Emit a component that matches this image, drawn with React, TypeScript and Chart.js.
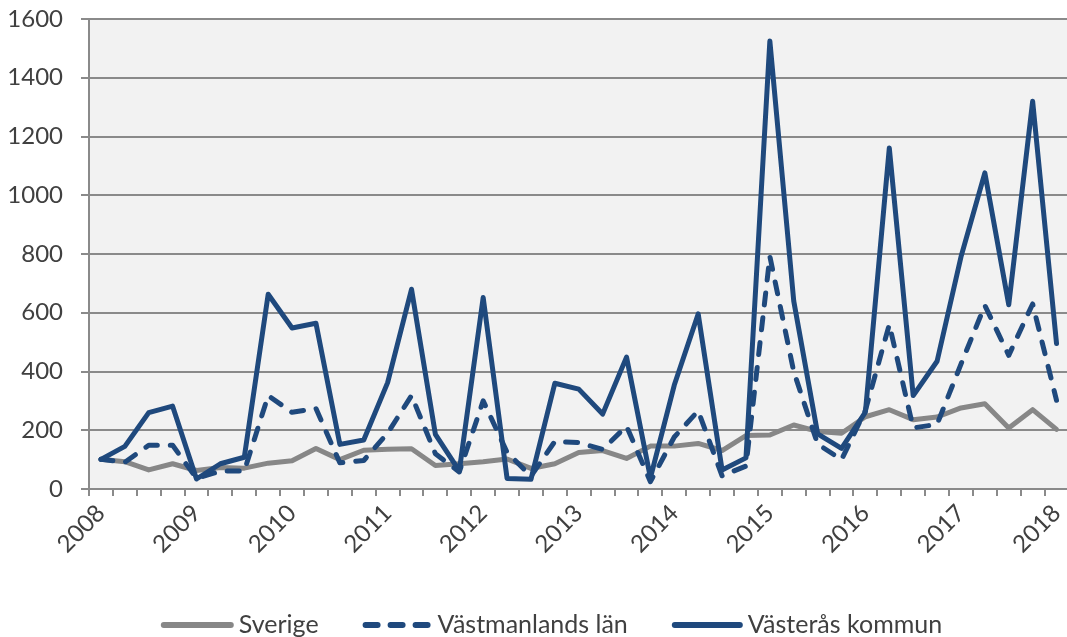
import React, { useEffect, useRef } from 'react';
import { Chart, registerables } from 'chart.js';

Chart.register(...registerables);

// ---- Data ----
const years = ['2008', '2009', '2010', '2011', '2012', '2013', '2014', '2015', '2016', '2017', '2018'];
const quarterNames = ['K1', 'K2', 'K3', 'K4'];
const categories: string[] = years
  .slice(0, -1)
  .flatMap((y) => quarterNames.map((q) => `${y} ${q}`))
  .concat([`${years[years.length - 1]} K1`]);

const sverige = [
  101, 93, 65, 86, 63, 73, 71, 88, 96, 138,
  100, 132, 135, 137, 80, 86, 93, 102, 70, 86,
  124, 131, 104, 146, 146, 155, 131, 182, 184, 218,
  196, 190, 246, 270, 236, 245, 276, 290, 208, 270,
  203,
];
const vastmanlandsLan = [
  101, 91, 149, 149, 36, 61, 61, 318, 261, 274,
  89, 97, 190, 318, 120, 58, 300, 125, 44, 162,
  158, 135, 214, 25, 177, 266, 45, 78, 792, 400,
  153, 100, 268, 560, 208, 220, 425, 625, 455, 630,
  302,
];
const vasterasKommun = [
  101, 145, 260, 282, 34, 86, 108, 663, 548, 564,
  152, 167, 362, 680, 186, 62, 652, 36, 33, 360,
  340, 255, 449, 38, 354, 596, 65, 106, 1525, 640,
  188, 138, 262, 1161, 318, 435, 790, 1076, 627, 1320,
  495,
];
const seriesNames = ['Sverige', 'Västmanlands län', 'Västerås kommun'];
const yTicks = [0, 200, 400, 600, 800, 1000, 1200, 1400, 1600];

// ---- Styles ----
const FONT = 'Lato, "Open Sans", sans-serif';
const TEXT_COLOR = '#404040';
const GRID_COLOR = '#8a8a8a';
const BLUE = '#1F497D';
const GRAY = '#878787';

const plotBg = {
  id: 'plotBg',
  beforeDraw(chart: any) {
    const { ctx, chartArea } = chart;
    if (!chartArea) return;
    ctx.save();
    ctx.fillStyle = '#f2f2f2';
    ctx.fillRect(chartArea.left, chartArea.top, chartArea.right - chartArea.left, chartArea.bottom - chartArea.top);
    ctx.restore();
  },
};

const lineLegend = {
  id: 'lineLegend',
  afterDraw(chart: any) {
    const ctx = chart.ctx;
    ctx.save();
    ctx.font = `25px ${FONT}`;
    const sampleW = [73, 70, 71];
    const gap = 5;
    const spacing = 44;
    const items = chart.data.datasets.map((ds: any, i: number) => ({
      text: ds.label as string,
      color: ds.borderColor as string,
      dash: (ds.borderDash || []) as number[],
      sw: sampleW[i],
      w: ctx.measureText(ds.label).width,
    }));
    const total =
      items.reduce((s: number, it: any) => s + it.sw + gap + it.w, 0) + spacing * (items.length - 1);
    let x = 551.5 - total / 2;
    const y = 625;
    items.forEach((it: any) => {
      ctx.beginPath();
      ctx.setLineDash(it.dash);
      ctx.lineCap = 'round';
      ctx.lineWidth = 6;
      ctx.strokeStyle = it.color;
      ctx.moveTo(x + 3, y);
      ctx.lineTo(x + it.sw - 3, y);
      ctx.stroke();
      ctx.setLineDash([]);
      ctx.fillStyle = TEXT_COLOR;
      ctx.textBaseline = 'middle';
      ctx.textAlign = 'left';
      ctx.fillText(it.text, x + it.sw + gap, y);
      x += it.sw + gap + it.w + spacing;
    });
    ctx.restore();
  },
};

export default function App() {
  const canvasRef = useRef<HTMLCanvasElement | null>(null);

  useEffect(() => {
    if (!canvasRef.current) return;
    const chart = new Chart(canvasRef.current, {
      type: 'line',
      data: {
        labels: categories,
        datasets: [
          {
            label: seriesNames[0],
            data: sverige,
            borderColor: GRAY,
            borderWidth: 5,
            pointRadius: 0,
            borderJoinStyle: 'round',
            borderCapStyle: 'round',
            tension: 0,
            order: 3,
          },
          {
            label: seriesNames[1],
            data: vastmanlandsLan,
            borderColor: BLUE,
            borderWidth: 5,
            borderDash: [12, 13],
            borderCapStyle: 'round',
            borderJoinStyle: 'round',
            pointRadius: 0,
            tension: 0,
            order: 2,
          },
          {
            label: seriesNames[2],
            data: vasterasKommun,
            borderColor: BLUE,
            borderWidth: 5,
            borderJoinStyle: 'round',
            borderCapStyle: 'round',
            pointRadius: 0,
            tension: 0,
            order: 1,
          },
        ],
      },
      options: {
        responsive: false,
        animation: false,
        devicePixelRatio: 1,
        layout: { padding: { top: 19, right: 9, left: 0, bottom: 0 } },
        plugins: {
          legend: { display: false },
          tooltip: { enabled: false },
        },
        scales: {
          x: {
            type: 'category',
            offset: true,
            afterFit(scale: any) {
              scale.height = 148;
            },
            grid: {
              offset: true,
              drawOnChartArea: false,
              drawTicks: true,
              tickLength: 7,
              color: GRID_COLOR,
              lineWidth: 2,
            },
            border: { display: true, color: GRID_COLOR, width: 2 },
            ticks: {
              autoSkip: false,
              minRotation: 45,
              maxRotation: 45,
              padding: 3,
              color: TEXT_COLOR,
              font: { family: FONT, size: 24 },
              callback: (_v: any, index: number) => {
                const c = categories[index];
                return c.endsWith('K1') ? c.slice(0, 4) : '';
              },
            },
          },
          y: {
            min: yTicks[0],
            max: yTicks[yTicks.length - 1],
            afterFit(scale: any) {
              scale.width = 89;
              scale.paddingTop = 0;
              scale.paddingBottom = 0;
            },
            afterBuildTicks(scale: any) {
              scale.ticks = yTicks.map((v) => ({ value: v }));
            },
            grid: {
              color: GRID_COLOR,
              lineWidth: 2,
              drawTicks: true,
              tickLength: 8,
            },
            border: { display: true, color: GRID_COLOR, width: 2 },
            ticks: {
              padding: 18,
              color: TEXT_COLOR,
              font: { family: FONT, size: 24 },
              callback: (v: any) => String(v),
            },
          },
        },
      },
      plugins: [plotBg, lineLegend],
    });
    return () => chart.destroy();
  }, []);

  return (
    <div
      style={{
        position: 'absolute',
        left: 0,
        top: 0,
        width: 1067,
        height: 637,
        overflow: 'hidden',
        background: '#ffffff',
      }}
    >
      <canvas ref={canvasRef} width={1080} height={637} style={{ width: 1080, height: 637, display: 'block' }} />
    </div>
  );
}
